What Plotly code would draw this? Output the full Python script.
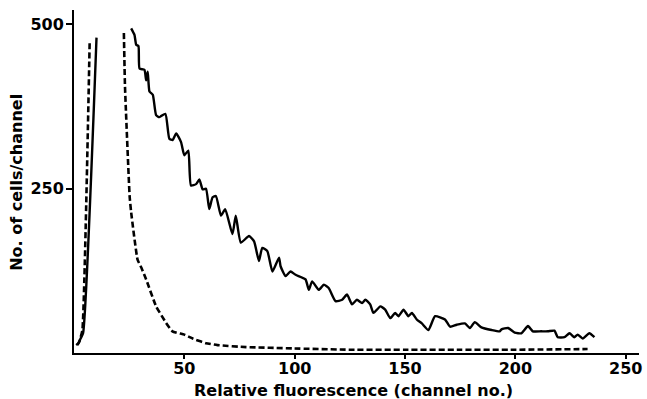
import plotly.graph_objects as go

# Solid histogram (channel, cells/channel); None = off-scale gap
solid_x = [1.0, 2.0, 3.0, 4.1, 10.2, 18.0, 25.9, 27.4, 28.2, 29.2, 29.7, 31.9, 32.7, 33.4, 34.2, 35.7,
           37.2, 38.7, 41.4, 43.2, 44.7, 46.3, 48.5, 50.0, 51.8, 53.0, 55.3, 56.8, 58.3, 59.8,
           61.3, 62.8, 64.3, 66.6, 68.5, 71.8, 73.3, 75.6, 79.3, 81.6, 83.8, 85.3, 87.6, 89.9,
           92.9, 93.6, 95.9, 98.1, 100.4, 104.9, 106.4, 107.9, 110.9, 113.2, 115.4, 118.5, 121.5,
           123.7, 126.0, 128.2, 130.5, 132.0, 134.2, 135.7, 138.8, 141.0, 143.3, 145.5, 147.0,
           149.3, 151.5, 153.1, 155.3, 157.6, 160.6, 163.6, 168.1, 170.4, 173.4, 177.1, 179.4,
           181.6, 184.6, 189.2, 192.9, 193.7, 196.7, 199.7, 202.7, 205.7, 207.9, 211.7, 214.7,
           217.7, 219.2, 222.2, 224.5, 226.7, 228.2, 230.5, 233.5, 235.8]
solid_y = [12, 15, 22, 30, 480, None, 494, 484, 469, 467, 433, 431, 415, 428, 398, 393,
           362, 359, 364, 326, 324, 334, 321, 301, 308, 255, 257, 264, 249, 250,
           219, 237, 239, 209, 219, 181, 209, 168, 178, 170, 140, 160, 155, 124,
           145, 132, 117, 124, 119, 112, 96, 109, 96, 104, 99, 79, 81,
           89, 74, 81, 76, 81, 74, 61, 71, 66, 53, 61, 56,
           66, 56, 61, 51, 45, 35, 56, 51, 40, 43, 45, 38,
           47, 39, 35, 33, 36, 38, 31, 30, 41, 33, 33, 33,
           34, 24, 24, 30, 24, 28, 22, 30, 24]

# Dashed histogram
dash_x = [1.5, 2.5, 3.8, 7.1, 15.0, 22.6, 23.1, 25.2, 25.9, 28.8, 30.5, 32.7, 37.2, 41.7, 44.6,
          50.0, 53.8, 55.3, 59.8, 65.0, 78.0, 99.0, 125.0, 150.0, 175.0, 200.0, 232.7]
dash_y = [12, 18, 35, 474, None, 487, 406, 239, 214, 142, 130, 112, 71, 46, 33,
          28, 22, 20, 15, 12, 9, 7, 5, 5, 5, 5, 6]

x_ticks = [50, 100, 150, 200, 250]
y_ticks = [250, 500]

FONT = "DejaVu Sans"

fig = go.Figure()
fig.add_trace(go.Scatter(x=solid_x, y=solid_y, mode="lines", connectgaps=False,
                         line=dict(color="black", width=2.4, shape="spline", smoothing=0.5),
                         showlegend=False))
fig.add_trace(go.Scatter(x=dash_x, y=dash_y, mode="lines", connectgaps=False,
                         line=dict(color="black", width=2.6, dash="6px,3px", shape="spline",
                                   smoothing=0.4),
                         showlegend=False))

fig.update_layout(
    width=647, height=399,
    margin=dict(l=74, r=5, t=10, b=46),
    paper_bgcolor="white", plot_bgcolor="white",
    font=dict(family=FONT, color="black"),
    xaxis=dict(range=[0, 256], tickvals=x_ticks, ticktext=[str(v) for v in x_ticks],
               showgrid=False, zeroline=False, showline=True, linecolor="black", linewidth=2,
               ticks="outside", ticklen=4, tickwidth=1.5, tickcolor="black",
               ticklabelstandoff=-4,
               tickfont=dict(family=FONT, size=16, color="black", weight="bold")),
    yaxis=dict(range=[0, 522], tickvals=y_ticks, ticktext=[str(v) for v in y_ticks],
               showgrid=False, zeroline=False, showline=True, linecolor="black", linewidth=2,
               ticks="outside", ticklen=6, tickwidth=1.5, tickcolor="black",
               ticklabelstandoff=-1,
               tickfont=dict(family=FONT, size=16, color="black", weight="bold")),
    annotations=[
        dict(text="<b>Relative fluorescence (channel no.)</b>", xref="paper", yref="paper",
             x=0.495, y=0, yshift=-37, xanchor="center", yanchor="middle", showarrow=False,
             font=dict(family=FONT, size=16, color="black")),
        dict(text="<b>No. of cells/channel</b>", xref="paper", yref="paper",
             x=0, xshift=-57, y=0.496, xanchor="center", yanchor="middle", textangle=-90,
             showarrow=False, font=dict(family=FONT, size=16, color="black")),
    ],
)

fig.write_html("out.html", config={"displayModeBar": False},
               post_script="document.body.style.margin='0';document.body.style.overflow='hidden';")
